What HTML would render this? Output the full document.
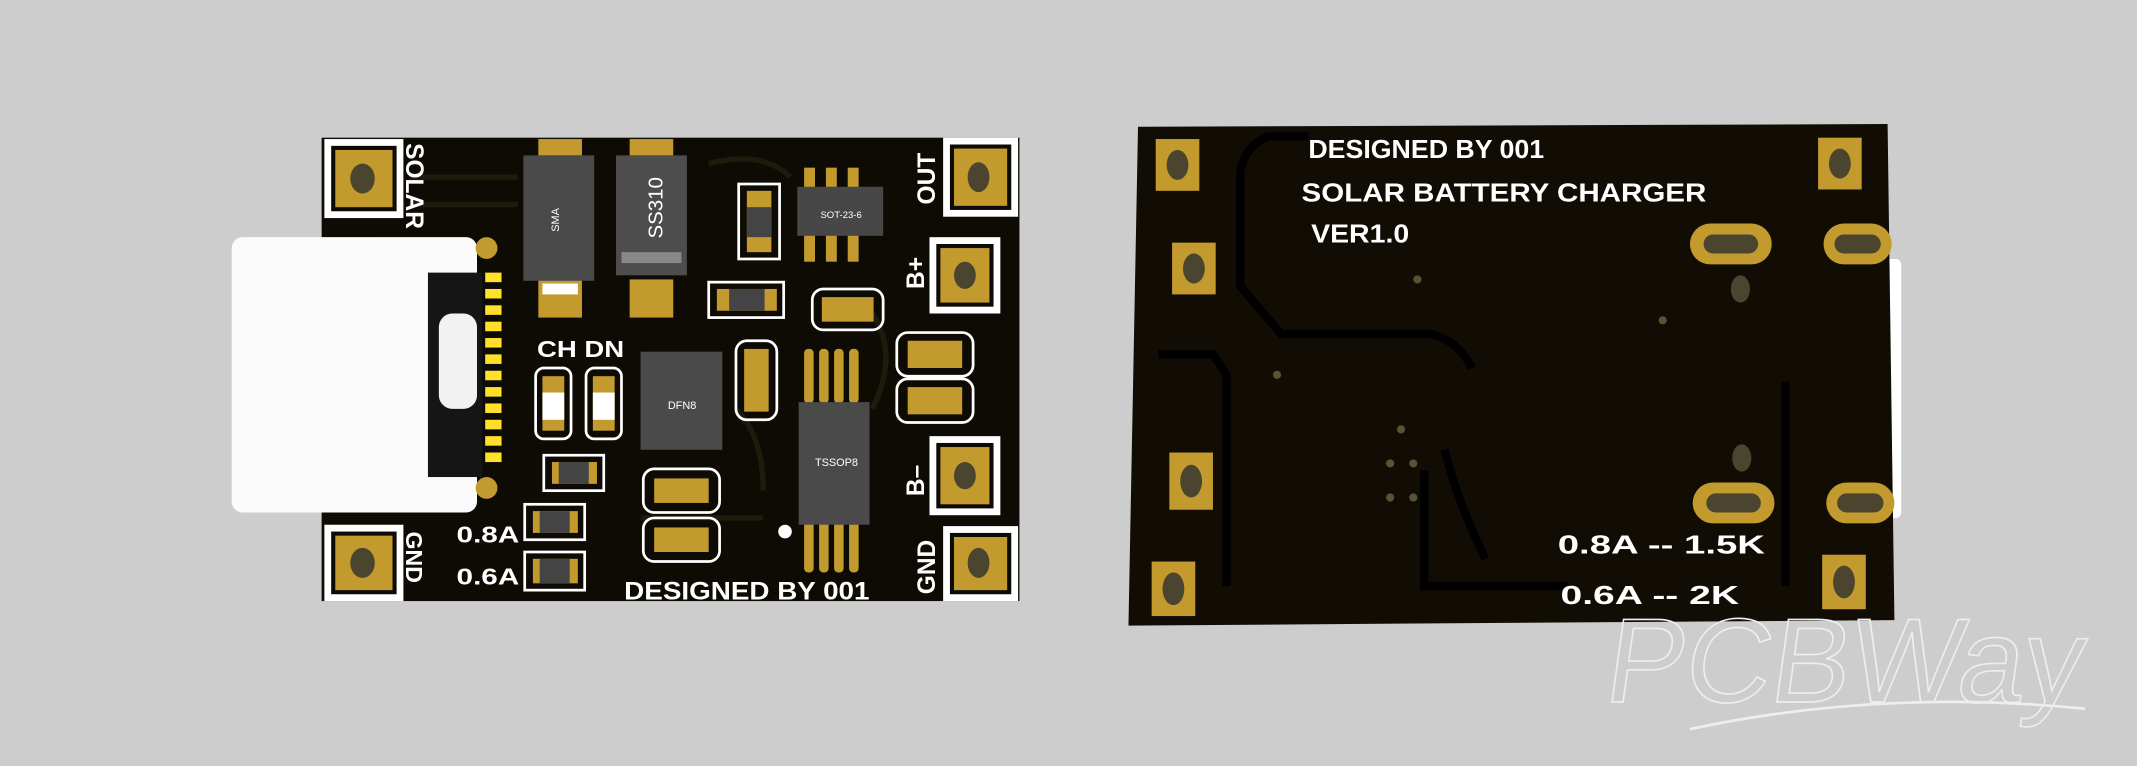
<!DOCTYPE html>
<html><head><meta charset="utf-8"><style>
html,body{margin:0;padding:0;background:#cdcdcd;}
svg{display:block}
text{font-family:"Liberation Sans",sans-serif;font-weight:bold;fill:#fff}
</style></head><body>
<svg width="2137" height="766" viewBox="0 0 1568 562" xmlns="http://www.w3.org/2000/svg">
<rect width="1568" height="562" fill="#cdcdcd"/>
<!-- LEFT BOARD -->
<rect x="236" y="101" width="512" height="340" fill="#0e0b04"/>
<g stroke="#1e1a0c" stroke-width="4" fill="none">
<path d="M300 130 H380"/><path d="M300 150 H380"/><path d="M520 120 Q560 110 580 130"/><path d="M640 230 Q660 260 640 300"/>
<path d="M540 300 Q560 320 560 360"/><path d="M470 380 H560"/>
</g>
<g>
<rect x="238" y="102" width="58" height="58" fill="#fff"/><rect x="243" y="107" width="48" height="48" fill="#0e0b04"/><rect x="246" y="110" width="42" height="42" fill="#c39a2e"/><ellipse cx="266" cy="131" rx="9" ry="11" fill="#4b4530"/>
<rect x="238" y="385" width="58" height="56" fill="#fff"/><rect x="243" y="390" width="48" height="46" fill="#0e0b04"/><rect x="246" y="393" width="42" height="40" fill="#c39a2e"/><ellipse cx="266" cy="413" rx="9" ry="11" fill="#4b4530"/>
<rect x="692" y="101" width="55" height="58" fill="#fff"/><rect x="697" y="106" width="45" height="48" fill="#0e0b04"/><rect x="700" y="109" width="39" height="42" fill="#c39a2e"/><ellipse cx="718" cy="130" rx="8" ry="11" fill="#4b4530"/>
<rect x="682" y="174" width="52" height="56" fill="#fff"/><rect x="687" y="179" width="42" height="46" fill="#0e0b04"/><rect x="690" y="182" width="36" height="40" fill="#c39a2e"/><ellipse cx="708" cy="202" rx="8" ry="10" fill="#4b4530"/>
<rect x="682" y="320" width="52" height="58" fill="#fff"/><rect x="687" y="325" width="42" height="48" fill="#0e0b04"/><rect x="690" y="328" width="36" height="42" fill="#c39a2e"/><ellipse cx="708" cy="349" rx="8" ry="10" fill="#4b4530"/>
<rect x="692" y="386" width="55" height="55" fill="#fff"/><rect x="697" y="391" width="45" height="45" fill="#0e0b04"/><rect x="700" y="394" width="39" height="39" fill="#c39a2e"/><ellipse cx="718" cy="413" rx="8" ry="11" fill="#4b4530"/>
</g>
<!-- USB-C -->
<rect x="170" y="174" width="180" height="202" rx="8" fill="#fbfbfb"/>
<rect x="314" y="200" width="40" height="150" fill="#151515"/>
<rect x="322" y="230" width="28" height="70" rx="10" fill="#f2f2f2"/>
<g fill="#ffe02a"><rect x="356" y="200" width="12" height="7"/><rect x="356" y="212" width="12" height="7"/><rect x="356" y="224" width="12" height="7"/><rect x="356" y="236" width="12" height="7"/><rect x="356" y="248" width="12" height="7"/><rect x="356" y="260" width="12" height="7"/><rect x="356" y="272" width="12" height="7"/><rect x="356" y="284" width="12" height="7"/><rect x="356" y="296" width="12" height="7"/><rect x="356" y="308" width="12" height="7"/><rect x="356" y="320" width="12" height="7"/><rect x="356" y="332" width="12" height="7"/></g>
<circle cx="357" cy="182" r="8" fill="#c39a2e"/><circle cx="357" cy="358" r="8" fill="#c39a2e"/>
<!-- diodes -->
<rect x="395" y="102" width="32" height="12" fill="#c39a2e"/><rect x="395" y="205" width="32" height="28" fill="#c39a2e"/><rect x="398" y="208" width="26" height="8" fill="#fff"/>
<rect x="384" y="114" width="52" height="92" fill="#4a4a4a"/><text x="410" y="170" transform="rotate(-90 410 170)" style="font-size:8px;font-weight:normal" fill="#ccc">SMA</text>
<rect x="462" y="102" width="32" height="12" fill="#c39a2e"/><rect x="462" y="205" width="32" height="28" fill="#c39a2e"/>
<rect x="452" y="114" width="52" height="88" fill="#4d4d4d"/><rect x="456" y="185" width="44" height="8" fill="#888"/>
<text x="486" y="175" transform="rotate(-90 486 175)" style="font-size:15px;font-weight:normal" fill="#bbb">SS310</text>
<!-- small parts -->
<rect x="542" y="135" width="30" height="55" fill="none" stroke="#fff" stroke-width="2"/><rect x="548" y="140" width="18" height="45" fill="#c39a2e"/><rect x="548" y="152" width="18" height="22" fill="#444"/>
<rect x="590" y="123" width="8" height="20" fill="#c39a2e"/><rect x="606" y="123" width="8" height="20" fill="#c39a2e"/><rect x="622" y="123" width="8" height="20" fill="#c39a2e"/>
<rect x="590" y="170" width="8" height="22" fill="#c39a2e"/><rect x="606" y="170" width="8" height="22" fill="#c39a2e"/><rect x="622" y="170" width="8" height="22" fill="#c39a2e"/>
<rect x="585" y="137" width="63" height="36" fill="#474747"/><text x="602" y="160" style="font-size:7px;font-weight:normal" fill="#aaa">SOT-23-6</text>
<rect x="520" y="207" width="55" height="26" fill="none" stroke="#fff" stroke-width="2"/><rect x="526" y="212" width="44" height="16" fill="#c39a2e"/><rect x="535" y="212" width="26" height="16" fill="#444"/>
<rect x="596" y="212" width="52" height="30" rx="8" fill="none" stroke="#fff" stroke-width="2"/><rect x="603" y="218" width="38" height="18" fill="#c39a2e"/>
<rect x="658" y="244" width="56" height="32" rx="8" fill="none" stroke="#fff" stroke-width="2"/><rect x="666" y="250" width="40" height="20" fill="#c39a2e"/>
<rect x="658" y="278" width="56" height="32" rx="8" fill="none" stroke="#fff" stroke-width="2"/><rect x="666" y="284" width="40" height="20" fill="#c39a2e"/>
<rect x="540" y="250" width="30" height="58" rx="8" fill="none" stroke="#fff" stroke-width="2"/><rect x="546" y="256" width="18" height="46" fill="#c39a2e"/>
<rect x="470" y="258" width="60" height="72" fill="#4a4a4a"/><text x="490" y="300" style="font-size:8px;font-weight:normal" fill="#ccc">DFN8</text>
<g fill="#c39a2e"><rect x="590" y="256" width="7" height="40" rx="3"/><rect x="601" y="256" width="7" height="40" rx="3"/><rect x="612" y="256" width="7" height="40" rx="3"/><rect x="623" y="256" width="7" height="40" rx="3"/>
<rect x="590" y="382" width="7" height="38" rx="3"/><rect x="601" y="382" width="7" height="38" rx="3"/><rect x="612" y="382" width="7" height="38" rx="3"/><rect x="623" y="382" width="7" height="38" rx="3"/></g>
<rect x="586" y="295" width="52" height="90" fill="#4a4a4a"/><text x="598" y="342" style="font-size:8px;font-weight:normal" fill="#bbb">TSSOP8</text>
<circle cx="576" cy="390" r="5" fill="#fff"/>
<rect x="393" y="270" width="26" height="52" rx="6" fill="none" stroke="#fff" stroke-width="2"/><rect x="398" y="276" width="16" height="40" fill="#c39a2e"/><rect x="398" y="288" width="16" height="20" fill="#fff"/>
<rect x="430" y="270" width="26" height="52" rx="6" fill="none" stroke="#fff" stroke-width="2"/><rect x="435" y="276" width="16" height="40" fill="#c39a2e"/><rect x="435" y="288" width="16" height="20" fill="#fff"/>
<rect x="399" y="334" width="44" height="26" fill="none" stroke="#fff" stroke-width="2"/><rect x="405" y="339" width="33" height="16" fill="#c39a2e"/><rect x="410" y="339" width="22" height="16" fill="#444"/>
<rect x="385" y="370" width="44" height="26" fill="none" stroke="#fff" stroke-width="2"/><rect x="391" y="375" width="33" height="16" fill="#c39a2e"/><rect x="396" y="375" width="22" height="16" fill="#444"/>
<rect x="385" y="405" width="44" height="28" fill="none" stroke="#fff" stroke-width="2"/><rect x="391" y="410" width="33" height="18" fill="#c39a2e"/><rect x="396" y="410" width="22" height="18" fill="#444"/>
<rect x="472" y="344" width="56" height="32" rx="8" fill="none" stroke="#fff" stroke-width="2"/><rect x="480" y="351" width="40" height="18" fill="#c39a2e"/>
<rect x="472" y="380" width="56" height="32" rx="8" fill="none" stroke="#fff" stroke-width="2"/><rect x="480" y="387" width="40" height="18" fill="#c39a2e"/>
<text x="298" y="105" transform="rotate(90 298 105)" style="font-size:18px">SOLAR</text>
<text x="298" y="390" transform="rotate(90 298 390)" style="font-size:17px">GND</text>
<text x="394" y="262" style="font-size:17px" textLength="64" lengthAdjust="spacingAndGlyphs">CH DN</text>
<text x="335" y="398" style="font-size:17px" textLength="46" lengthAdjust="spacingAndGlyphs">0.8A</text>
<text x="335" y="429" style="font-size:17px" textLength="46" lengthAdjust="spacingAndGlyphs">0.6A</text>
<text x="458" y="440" style="font-size:18px" textLength="180" lengthAdjust="spacingAndGlyphs">DESIGNED BY 001</text>
<text x="686" y="150" transform="rotate(-90 686 150)" style="font-size:18px">OUT</text>
<text x="678" y="212" transform="rotate(-90 678 212)" style="font-size:18px">B+</text>
<text x="678" y="364" transform="rotate(-90 678 364)" style="font-size:18px">B–</text>
<text x="686" y="436" transform="rotate(-90 686 436)" style="font-size:18px">GND</text>

<!-- RIGHT BOARD -->
<rect x="1381" y="190" width="14" height="190" rx="4" fill="#fff"/>
<polygon points="835,93 1385,91 1390,455 828,459" fill="#110d04"/>
<g stroke="#000" stroke-width="6" fill="none">
<path d="M960 100 H930 Q910 110 910 130 V210 L940 245 H1050 Q1070 250 1080 270"/>
<path d="M850 260 H890 L900 275 V430"/>
<path d="M1060 330 Q1070 370 1090 410"/>
<path d="M1045 345 V430 H1150"/>
<path d="M1310 280 V430"/>
</g>
<g fill="#c39a2e">
<rect x="848" y="102" width="32" height="38" /><rect x="860" y="178" width="32" height="38"/><rect x="858" y="332" width="32" height="42"/><rect x="845" y="412" width="32" height="40"/>
<rect x="1334" y="101" width="32" height="38"/><rect x="1337" y="407" width="32" height="40"/>
<rect x="1240" y="164" width="60" height="30" rx="15"/><rect x="1338" y="164" width="50" height="30" rx="15"/>
<rect x="1242" y="354" width="60" height="30" rx="15"/><rect x="1340" y="354" width="50" height="30" rx="15"/>
</g>
<g fill="#4b4530">
<ellipse cx="864" cy="121" rx="8" ry="11"/><ellipse cx="876" cy="197" rx="8" ry="11"/><ellipse cx="874" cy="353" rx="8" ry="12"/><ellipse cx="861" cy="432" rx="8" ry="12"/>
<ellipse cx="1350" cy="120" rx="8" ry="11"/><ellipse cx="1353" cy="427" rx="8" ry="12"/>
<rect x="1250" y="172" width="40" height="14" rx="7"/><rect x="1346" y="172" width="34" height="14" rx="7"/>
<rect x="1252" y="362" width="40" height="14" rx="7"/><rect x="1348" y="362" width="34" height="14" rx="7"/>
<ellipse cx="1277" cy="212" rx="7" ry="10"/><ellipse cx="1278" cy="336" rx="7" ry="10"/>
</g>
<g fill="#5a5234"><circle cx="1040" cy="205" r="3"/><circle cx="1028" cy="315" r="3"/><circle cx="1020" cy="340" r="3"/><circle cx="1037" cy="340" r="3"/><circle cx="1020" cy="365" r="3"/><circle cx="1037" cy="365" r="3"/><circle cx="1220" cy="235" r="3"/><circle cx="937" cy="275" r="3"/></g>
<text x="960" y="116" style="font-size:19px" textLength="173" lengthAdjust="spacingAndGlyphs">DESIGNED BY 001</text>
<text x="955" y="148" style="font-size:19px" textLength="297" lengthAdjust="spacingAndGlyphs">SOLAR BATTERY CHARGER</text>
<text x="962" y="178" style="font-size:19px" textLength="72" lengthAdjust="spacingAndGlyphs">VER1.0</text>
<text x="1143" y="406" style="font-size:19px" textLength="152" lengthAdjust="spacingAndGlyphs">0.8A -- 1.5K</text>
<text x="1145" y="443" style="font-size:19px" textLength="131" lengthAdjust="spacingAndGlyphs">0.6A -- 2K</text>
<text x="1178" y="515" style="font-size:88px;font-weight:normal;fill:none;stroke:#eeeeee;stroke-width:1.2" textLength="350" lengthAdjust="spacingAndGlyphs" transform="skewX(-8) translate(70 0)">PCBWay</text>
<path d="M1240 535 Q1380 505 1530 520" stroke="#eeeeee" stroke-width="2" fill="none"/>
</svg>
</body></html>
